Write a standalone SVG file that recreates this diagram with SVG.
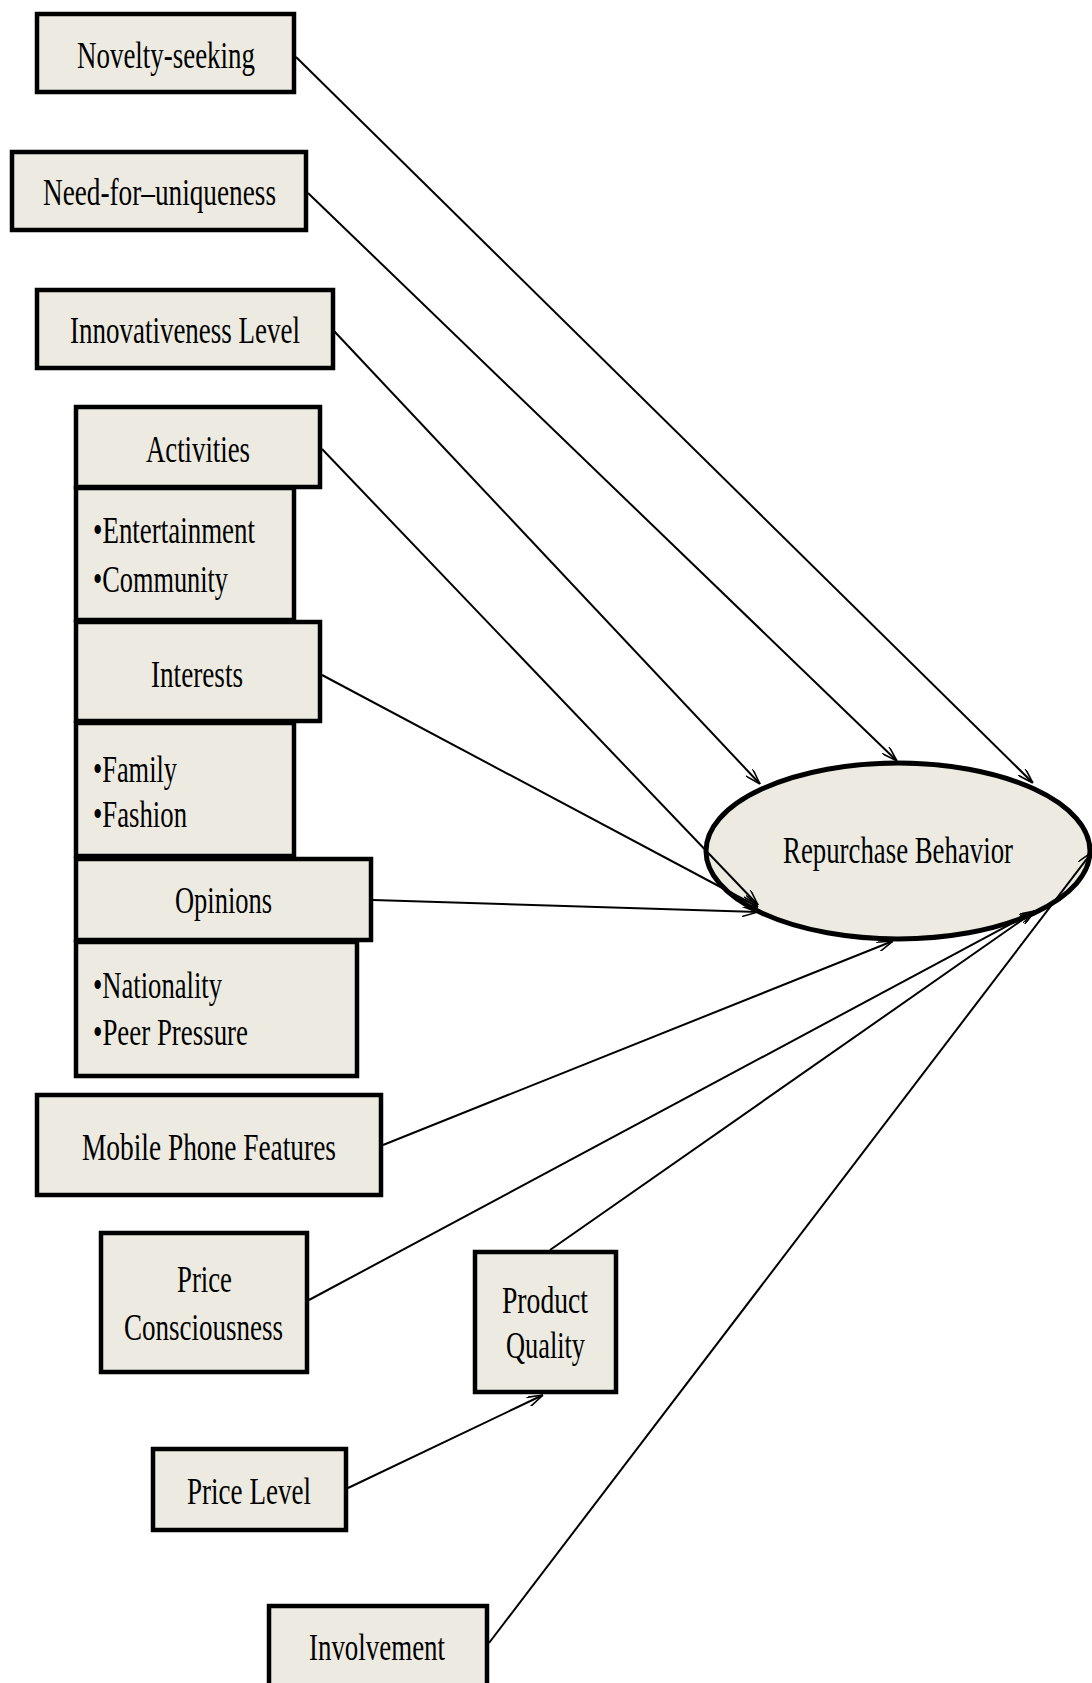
<svg xmlns="http://www.w3.org/2000/svg" width="1092" height="1683" viewBox="0 0 1092 1683">
<style>
.box{fill:#EDEBE1;stroke:#000;stroke-width:4.5}
.ell{fill:#EDEBE1;stroke:#000;stroke-width:5}
.t{font-family:"Liberation Serif","Times New Roman",serif;font-size:38px;fill:#000}
.c{text-anchor:middle}
.conn line{stroke:#000;stroke-width:2;marker-end:url(#arr)}
</style>
<defs>
<marker id="arr" viewBox="0 0 16 10" refX="16" refY="5" markerWidth="16" markerHeight="10" markerUnits="userSpaceOnUse" orient="auto">
<path d="M0,0 L16,5 L0,10" fill="none" stroke="#000" stroke-width="1.6"/>
</marker>
</defs>

<g id="novelty">
<rect class="box" x="37" y="14" width="257" height="78"/>
<text class="t c" x="166" y="68" textLength="178" lengthAdjust="spacingAndGlyphs">Novelty-seeking</text>
</g>
<g id="uniqueness">
<rect class="box" x="12" y="152" width="294" height="78"/>
<text class="t c" x="159.5" y="205" textLength="233" lengthAdjust="spacingAndGlyphs">Need-for–uniqueness</text>
</g>
<g id="innovativeness">
<rect class="box" x="37" y="290" width="296" height="78"/>
<text class="t c" x="185" y="343" textLength="230" lengthAdjust="spacingAndGlyphs">Innovativeness Level</text>
</g>
<g id="activities">
<rect class="box" x="76" y="407" width="244" height="80"/>
<text class="t c" x="198" y="462" textLength="104" lengthAdjust="spacingAndGlyphs">Activities</text>
</g>
<g id="activities-items">
<rect class="box" x="76" y="488" width="218" height="132"/>
<text class="t" x="93" y="543" textLength="162" lengthAdjust="spacingAndGlyphs">•Entertainment</text>
<text class="t" x="93" y="592" textLength="135" lengthAdjust="spacingAndGlyphs">•Community</text>
</g>
<g id="interests">
<rect class="box" x="76" y="622" width="244" height="99"/>
<text class="t c" x="197" y="687" textLength="92" lengthAdjust="spacingAndGlyphs">Interests</text>
</g>
<g id="interests-items">
<rect class="box" x="76" y="723" width="218" height="133"/>
<text class="t" x="93" y="782" textLength="84" lengthAdjust="spacingAndGlyphs">•Family</text>
<text class="t" x="93" y="827" textLength="94" lengthAdjust="spacingAndGlyphs">•Fashion</text>
</g>
<g id="opinions">
<rect class="box" x="76" y="859" width="295" height="81"/>
<text class="t c" x="223.5" y="913" textLength="97" lengthAdjust="spacingAndGlyphs">Opinions</text>
</g>
<g id="opinions-items">
<rect class="box" x="76" y="942" width="281" height="134"/>
<text class="t" x="93" y="998" textLength="129" lengthAdjust="spacingAndGlyphs">•Nationality</text>
<text class="t" x="93" y="1045" textLength="155" lengthAdjust="spacingAndGlyphs">•Peer Pressure</text>
</g>
<g id="mobile">
<rect class="box" x="37" y="1095" width="344" height="100"/>
<text class="t c" x="209" y="1160" textLength="254" lengthAdjust="spacingAndGlyphs">Mobile Phone Features</text>
</g>
<g id="price-consciousness">
<rect class="box" x="101" y="1233" width="206" height="139"/>
<text class="t c" x="204.5" y="1292" textLength="55" lengthAdjust="spacingAndGlyphs">Price</text>
<text class="t c" x="203.5" y="1340" textLength="159" lengthAdjust="spacingAndGlyphs">Consciousness</text>
</g>
<g id="product-quality">
<rect class="box" x="475" y="1252" width="141" height="140"/>
<text class="t c" x="545" y="1313" textLength="86" lengthAdjust="spacingAndGlyphs">Product</text>
<text class="t c" x="545.5" y="1358" textLength="79" lengthAdjust="spacingAndGlyphs">Quality</text>
</g>
<g id="price-level">
<rect class="box" x="153" y="1449" width="193" height="81"/>
<text class="t c" x="249" y="1504" textLength="124" lengthAdjust="spacingAndGlyphs">Price Level</text>
</g>
<g id="involvement">
<rect class="box" x="269" y="1606" width="218" height="100"/>
<text class="t c" x="377" y="1660" textLength="136" lengthAdjust="spacingAndGlyphs">Involvement</text>
</g>
<g id="repurchase">
<ellipse class="ell" cx="898" cy="851" rx="192" ry="88"/>
<text class="t c" x="898" y="863" textLength="230" lengthAdjust="spacingAndGlyphs">Repurchase Behavior</text>
</g>

<g id="connectors" class="conn">
<line x1="296" y1="57" x2="1033" y2="783"/>
<line x1="308" y1="193" x2="897" y2="761"/>
<line x1="334" y1="331" x2="760" y2="784"/>
<line x1="322" y1="449" x2="758" y2="905"/>
<line x1="322" y1="675" x2="758" y2="907"/>
<line x1="373" y1="900" x2="758" y2="912"/>
<line x1="383" y1="1145" x2="893" y2="941"/>
<line x1="309" y1="1300" x2="1035" y2="911"/>
<line x1="550" y1="1250" x2="1035" y2="911"/>
<line x1="348" y1="1488" x2="543" y2="1395"/>
<line x1="489" y1="1643" x2="1092" y2="852"/>
</g>
</svg>
